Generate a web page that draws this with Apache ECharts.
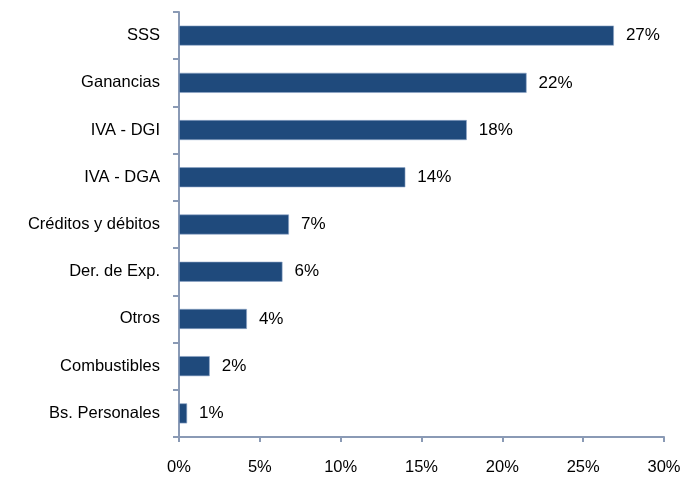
<!DOCTYPE html>
<html>
<head>
<meta charset="utf-8">
<script src="https://cdn.jsdelivr.net/npm/echarts@6/dist/echarts.min.js"></script>
<style>html,body{margin:0;padding:0;background:#fff}#c{width:693px;height:478px}</style>
</head>
<body>
<div id="c"></div>
<script>
const categories = ["SSS", "Ganancias", "IVA - DGI", "IVA - DGA", "Créditos y débitos", "Der. de Exp.", "Otros", "Combustibles", "Bs. Personales"];
const values = [26.9, 21.5, 17.8, 14.0, 6.8, 6.4, 4.2, 1.9, 0.5];
const valueLabels = ["27%", "22%", "18%", "14%", "7%", "6%", "4%", "2%", "1%"];
const xTicks = [0, 5, 10, 15, 20, 25, 30];

const font = "'Liberation Sans', Arial, sans-serif";
const axisColor = '#8a9ab5';
const chart = echarts.init(document.getElementById('c'), null, {renderer: 'canvas'});
chart.setOption({
  animation: false,
  grid: {left: 179, right: 29, top: 12, bottom: 41, containLabel: false},
  xAxis: {
    type: 'value', min: xTicks[0], max: xTicks[xTicks.length - 1], interval: 5,
    axisLine: {show: true, lineStyle: {color: axisColor, width: 2}},
    axisTick: {show: true, length: 5, lineStyle: {color: axisColor, width: 2}},
    splitLine: {show: false},
    axisLabel: {formatter: '{value}%', color: '#000', fontFamily: font, fontSize: 16.5, margin: 22}
  },
  yAxis: {
    type: 'category', data: categories, inverse: true,
    axisLine: {show: true, lineStyle: {color: axisColor, width: 2}},
    axisTick: {show: true, length: 6, lineStyle: {color: axisColor, width: 2}},
    axisLabel: {color: '#000', fontFamily: font, fontSize: 16.5, margin: 19}
  },
  series: [{
    type: 'bar', data: values, barWidth: 20,
    itemStyle: {color: '#1f4a7c', borderColor: '#8fa6c8', borderWidth: 0.6},
    label: {
      show: true, position: 'right', distance: 12, color: '#000',
      fontFamily: font, fontSize: 17,
      formatter: p => valueLabels[p.dataIndex]
    }
  }]
});
</script>
</body>
</html>
